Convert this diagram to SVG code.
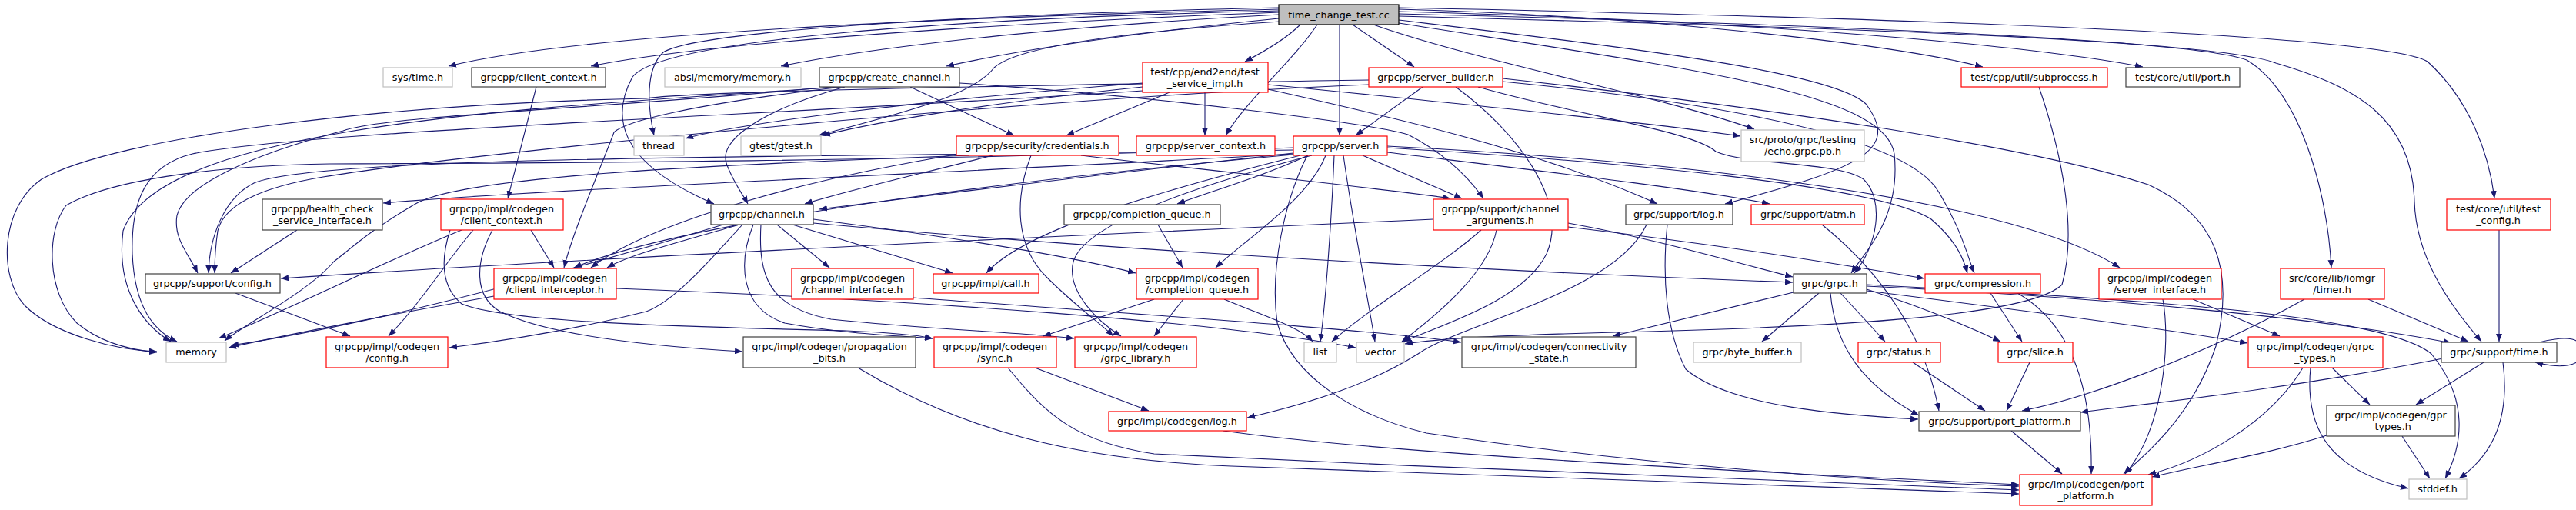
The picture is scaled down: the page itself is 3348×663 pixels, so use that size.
<svg xmlns="http://www.w3.org/2000/svg" width="3348" height="663" viewBox="0 0 3348 663">
<style>
.e path{fill:none;stroke:#191970;stroke-width:1.1;marker-end:url(#ah)}
rect{fill:#fff;stroke-width:1.2}
.b rect{stroke:#404040}
.r rect{stroke:#ff0000}
.g rect{stroke:#bfbfbf}
.root rect{fill:#bfbfbf;stroke:#000}
text{font-family:"DejaVu Sans","Liberation Sans",sans-serif;font-size:12.8px;text-anchor:middle;fill:#000}
</style>
<defs>
<marker id="ah" viewBox="0 0 10 8" refX="10" refY="4" markerWidth="10" markerHeight="8" orient="auto" markerUnits="userSpaceOnUse"><path d="M0,0 L10,4 L0,8 z" fill="#191970"/></marker>
</defs>
<rect x="0" y="0" width="3348" height="663" style="fill:#fff;stroke:none"/>
<g class="e" id="edges">
<path d="M1662,12 C1250,22 760,42 583,86"/>
<path d="M1662,16 C1300,30 920,55 768,86"/>
<path d="M1662,19 C1420,32 1160,56 1015,86"/>
<path d="M1662,24 C1500,40 1340,62 1230,86"/>
<path d="M1662,10 C1300,18 910,38 862,68 C838,90 842,140 850,176"/>
<path d="M1662,14 C1250,24 860,50 822,100 C795,150 800,210 928,265"/>
<path d="M1664,28 C1450,42 1320,62 1292,88 C1262,128 1150,152 1064,176"/>
<path d="M1690,32 C1672,50 1645,66 1618,80"/>
<path d="M1712,32 C1680,80 1620,130 1593,176"/>
<path d="M1741,32 L1741,176"/>
<path d="M1758,32 L1838,87"/>
<path d="M1785,32 C1920,80 2160,125 2280,168"/>
<path d="M1818,12 C2120,20 2450,55 2577,87"/>
<path d="M1818,15 C2220,25 2620,55 2785,87"/>
<path d="M1818,18 C2300,30 2850,50 2920,78 C2990,120 3025,250 3030,348"/>
<path d="M1818,10 C2500,24 3100,45 3155,80 C3210,130 3235,200 3242,258"/>
<path d="M1818,21 C2400,36 2880,52 2958,82 C3060,112 3135,152 3138,262 C3140,332 3180,392 3225,444"/>
<path d="M1818,26 C2100,60 2380,92 2425,135 C2470,195 2420,218 2242,265"/>
<path d="M1818,30 C2200,90 2450,120 2462,200 C2470,280 2430,320 2406,355"/>
<path d="M697,113 L660,258"/>
<path d="M1098,113 C1000,140 930,180 945,215 C955,240 965,252 972,265"/>
<path d="M1183,113 L1318,176"/>
<path d="M1247,108 C1500,125 1780,160 1830,175 C1870,195 1905,225 1928,258"/>
<path d="M1090,113 C700,140 210,160 160,300 C150,380 190,425 222,444"/>
<path d="M1080,113 C800,140 500,150 446,170 C330,200 240,240 230,280 C225,310 245,330 257,355"/>
<path d="M1095,113 C900,135 812,158 798,172 C780,220 745,300 733,348"/>
<path d="M1566,120 L1566,176"/>
<path d="M1520,120 L1386,176"/>
<path d="M1485,108 C1200,130 960,160 891,180"/>
<path d="M1485,113 C1300,132 1150,156 1069,176"/>
<path d="M1648,110 C1900,135 2150,160 2262,177"/>
<path d="M1648,116 C1800,150 2000,195 2154,265"/>
<path d="M1485,118 C1000,150 400,170 250,200 C190,215 170,260 172,330 C175,400 200,430 230,444"/>
<path d="M1849,113 L1762,176"/>
<path d="M1779,104 C1400,110 900,118 840,128 C500,135 150,178 54,233 C0,270 -2,360 32,397 C70,435 150,455 204,457"/>
<path d="M1779,110 C1300,130 600,200 420,230 C330,245 290,270 283,300 C280,320 279,340 279,355"/>
<path d="M1892,113 C1970,170 2040,260 2010,330 C1980,390 1880,420 1824,444"/>
<path d="M1921,113 C2050,150 2200,170 2230,197 C2270,215 2390,210 2422,233 C2450,260 2440,320 2410,355"/>
<path d="M1953,106 C2250,135 2480,180 2520,250 C2550,300 2556,330 2566,355"/>
<path d="M1953,102 C2300,140 2640,190 2792,240 C2880,280 2905,350 2880,450 C2850,540 2790,590 2760,616"/>
<path d="M1290,202 C1200,225 1100,248 1046,265"/>
<path d="M1405,202 C1600,225 1800,245 1885,258"/>
<path d="M1340,202 C1318,260 1320,320 1360,360 C1400,400 1430,420 1447,437"/>
<path d="M1260,202 C900,215 600,230 540,265 C480,300 460,320 434,340 C400,380 320,420 292,443"/>
<path d="M1260,198 C1000,240 830,300 768,348"/>
<path d="M1681,199 C1400,230 1200,255 1065,272"/>
<path d="M1681,200 C1300,222 720,245 498,264"/>
<path d="M1681,195 C1100,205 420,200 330,238 C290,258 272,310 271,355"/>
<path d="M1681,192 C1200,210 700,212 428,213 C300,215 150,230 86,267 C60,300 60,380 100,420 C130,445 170,455 204,458"/>
<path d="M1681,201 C1300,235 880,290 746,348"/>
<path d="M1771,202 L1900,258"/>
<path d="M1700,202 C1640,230 1570,250 1530,265"/>
<path d="M1723,202 C1700,260 1620,310 1580,348"/>
<path d="M1734,202 C1730,300 1722,400 1716,444"/>
<path d="M1746,202 C1760,300 1780,400 1787,444"/>
<path d="M1705,202 C1560,240 1410,290 1395,340 C1385,380 1430,420 1457,437"/>
<path d="M1690,202 C1500,250 1330,300 1282,355"/>
<path d="M1803,198 C2000,222 2200,245 2300,265"/>
<path d="M1803,192 C2100,210 2440,240 2510,285 C2545,315 2553,340 2557,355"/>
<path d="M1803,190 C2200,210 2620,260 2755,348"/>
<path d="M1699,202 C1670,260 1650,350 1660,420 C1680,490 1760,540 1854,563 C2100,600 2400,625 2624,632"/>
<path d="M961,292 C900,310 820,330 789,348"/>
<path d="M940,292 C780,340 500,420 300,449"/>
<path d="M965,292 C930,330 880,390 840,405 C740,430 640,445 584,452"/>
<path d="M1010,292 L1078,348"/>
<path d="M1030,292 L1238,355"/>
<path d="M1057,285 C1250,310 1400,335 1476,355"/>
<path d="M1057,290 C1500,330 2000,355 2330,367"/>
<path d="M979,292 C960,340 960,400 1020,420 C1100,435 1180,437 1212,440"/>
<path d="M989,292 C985,360 1000,400 1080,415 C1200,428 1330,432 1396,440"/>
<path d="M1505,292 L1537,348"/>
<path d="M1863,285 C1300,310 700,340 365,362"/>
<path d="M1925,299 C1880,340 1780,400 1731,444"/>
<path d="M1945,299 C1935,350 1880,400 1822,444"/>
<path d="M2038,290 C2150,310 2250,340 2330,360"/>
<path d="M2038,295 C2250,320 2400,345 2501,362"/>
<path d="M386,299 L300,355"/>
<path d="M690,299 L720,348"/>
<path d="M600,299 C500,340 380,400 284,440"/>
<path d="M615,299 C580,340 550,390 505,437"/>
<path d="M585,299 C575,330 570,370 600,395 C660,420 900,425 1100,430 C1150,432 1190,435 1212,440"/>
<path d="M640,299 C618,340 615,385 650,405 C720,440 880,452 965,457"/>
<path d="M642,385 C500,410 350,440 297,452"/>
<path d="M801,375 C1200,390 1600,420 1762,452"/>
<path d="M306,381 L455,437"/>
<path d="M1187,387 C1500,410 1800,430 1899,445"/>
<path d="M1500,389 L1356,437"/>
<path d="M1538,389 L1500,437"/>
<path d="M1591,389 C1640,410 1690,425 1706,444"/>
<path d="M1345,478 L1493,534"/>
<path d="M1310,478 C1360,540 1400,575 1500,590 C1900,610 2400,628 2624,637"/>
<path d="M1115,478 C1250,560 1400,598 1600,606 C2000,620 2400,636 2624,642"/>
<path d="M1590,560 C1800,590 2300,615 2624,630"/>
<path d="M2140,292 C2100,380 1900,420 1843,460 C1780,500 1700,525 1621,543"/>
<path d="M2167,292 C2160,360 2165,430 2191,480 C2250,530 2400,540 2493,545"/>
<path d="M2368,292 C2440,350 2500,430 2520,534"/>
<path d="M2331,380 L2096,437"/>
<path d="M2364,381 L2290,444"/>
<path d="M2392,381 L2450,444"/>
<path d="M2426,376 C2500,400 2560,425 2600,444"/>
<path d="M2426,378 C2600,400 2800,425 2921,446"/>
<path d="M2426,372 C2700,385 3000,410 3186,446"/>
<path d="M2379,381 C2385,450 2420,500 2494,540"/>
<path d="M2426,370 C2800,390 3100,410 3160,460 C3210,520 3200,580 3178,622"/>
<path d="M2587,381 L2628,444"/>
<path d="M2622,381 C2690,420 2720,500 2718,616"/>
<path d="M2850,389 L2963,437"/>
<path d="M2811,389 C2822,450 2810,560 2762,616"/>
<path d="M2995,389 C2850,470 2700,520 2628,534"/>
<path d="M3078,389 L3208,444"/>
<path d="M3248,299 L3248,444"/>
<path d="M2486,471 L2580,534"/>
<path d="M2638,471 L2608,534"/>
<path d="M3031,478 L3080,526"/>
<path d="M2993,478 C2950,550 2860,600 2792,617"/>
<path d="M3003,478 C2995,560 3030,612 3130,635"/>
<path d="M3300,445 C3340,435 3356,440 3356,458 C3356,476 3330,480 3295,471"/>
<path d="M3228,471 L3140,526"/>
<path d="M3253,471 C3262,540 3242,590 3196,622"/>
<path d="M3175,466 C2950,510 2760,528 2704,536"/>
<path d="M3024,566 C2950,590 2860,605 2797,620"/>
<path d="M3122,567 L3158,622"/>
<path d="M2614,560 L2680,616"/>
<path d="M2650,113 C2680,200 2700,300 2680,370 C2640,410 2400,425 2100,432 C1950,436 1870,440 1826,447"/>
</g>
<g id="n_root" class="root"><rect x="1662" y="6" width="156" height="26"/><text x="1740" y="23.5">time_change_test.cc</text></g>
<g id="n_systime" class="g"><rect x="498" y="88" width="90" height="25"/><text x="543" y="104.5">sys/time.h</text></g>
<g id="n_cc" class="b"><rect x="613" y="88" width="174" height="25"/><text x="700" y="104.5">grpcpp/client_context.h</text></g>
<g id="n_absl" class="g"><rect x="864" y="88" width="177" height="25"/><text x="952" y="104.5">absl/memory/memory.h</text></g>
<g id="n_cch" class="b"><rect x="1065" y="88" width="182" height="25"/><text x="1156" y="104.5">grpcpp/create_channel.h</text></g>
<g id="n_tsi" class="r"><rect x="1485" y="81" width="163" height="39"/><text x="1566" y="97.5">test/cpp/end2end/test</text><text x="1566" y="112.5">_service_impl.h</text></g>
<g id="n_sb" class="r"><rect x="1779" y="88" width="174" height="25"/><text x="1866" y="104.5">grpcpp/server_builder.h</text></g>
<g id="n_subproc" class="r"><rect x="2549" y="88" width="190" height="25"/><text x="2644" y="104.5">test/cpp/util/subprocess.h</text></g>
<g id="n_port" class="b"><rect x="2763" y="88" width="148" height="25"/><text x="2837" y="104.5">test/core/util/port.h</text></g>
<g id="n_thread" class="g"><rect x="824" y="177" width="65" height="25"/><text x="856" y="193.5">thread</text></g>
<g id="n_gtest" class="g"><rect x="963" y="177" width="104" height="25"/><text x="1015" y="193.5">gtest/gtest.h</text></g>
<g id="n_cred" class="r"><rect x="1243" y="177" width="211" height="25"/><text x="1348" y="193.5">grpcpp/security/credentials.h</text></g>
<g id="n_sctx" class="r"><rect x="1477" y="177" width="180" height="25"/><text x="1567" y="193.5">grpcpp/server_context.h</text></g>
<g id="n_server" class="r"><rect x="1681" y="177" width="122" height="25"/><text x="1742" y="193.5">grpcpp/server.h</text></g>
<g id="n_echo" class="g"><rect x="2263" y="169" width="160" height="41"/><text x="2343" y="186">src/proto/grpc/testing</text><text x="2343" y="201">/echo.grpc.pb.h</text></g>
<g id="n_health" class="b"><rect x="341" y="259" width="156" height="40"/><text x="419" y="275.5">grpcpp/health_check</text><text x="419" y="290.5">_service_interface.h</text></g>
<g id="n_icc" class="r"><rect x="573" y="259" width="159" height="40"/><text x="652" y="275.5">grpcpp/impl/codegen</text><text x="652" y="290.5">/client_context.h</text></g>
<g id="n_channel" class="b"><rect x="924" y="266" width="133" height="26"/><text x="990" y="283">grpcpp/channel.h</text></g>
<g id="n_cq" class="b"><rect x="1383" y="266" width="203" height="26"/><text x="1484" y="283">grpcpp/completion_queue.h</text></g>
<g id="n_chargs" class="r"><rect x="1863" y="259" width="175" height="40"/><text x="1950" y="275.5">grpcpp/support/channel</text><text x="1950" y="290.5">_arguments.h</text></g>
<g id="n_log" class="b"><rect x="2113" y="266" width="139" height="26"/><text x="2182" y="283">grpc/support/log.h</text></g>
<g id="n_atm" class="r"><rect x="2276" y="266" width="147" height="26"/><text x="2350" y="283">grpc/support/atm.h</text></g>
<g id="n_testcfg" class="r"><rect x="3180" y="259" width="135" height="40"/><text x="3247" y="275.5">test/core/util/test</text><text x="3247" y="290.5">_config.h</text></g>
<g id="n_config" class="b"><rect x="189" y="356" width="175" height="25"/><text x="276" y="372.5">grpcpp/support/config.h</text></g>
<g id="n_ci" class="r"><rect x="642" y="349" width="159" height="40"/><text x="721" y="365.5">grpcpp/impl/codegen</text><text x="721" y="380.5">/client_interceptor.h</text></g>
<g id="n_ci2" class="r"><rect x="1029" y="349" width="158" height="40"/><text x="1108" y="365.5">grpcpp/impl/codegen</text><text x="1108" y="380.5">/channel_interface.h</text></g>
<g id="n_call" class="r"><rect x="1213" y="356" width="137" height="25"/><text x="1281" y="372.5">grpcpp/impl/call.h</text></g>
<g id="n_icq" class="r"><rect x="1477" y="349" width="158" height="40"/><text x="1556" y="365.5">grpcpp/impl/codegen</text><text x="1556" y="380.5">/completion_queue.h</text></g>
<g id="n_grpc" class="b"><rect x="2331" y="356" width="95" height="25"/><text x="2378" y="372.5">grpc/grpc.h</text></g>
<g id="n_comp" class="r"><rect x="2502" y="356" width="150" height="25"/><text x="2577" y="372.5">grpc/compression.h</text></g>
<g id="n_sif" class="r"><rect x="2728" y="349" width="159" height="40"/><text x="2807" y="365.5">grpcpp/impl/codegen</text><text x="2807" y="380.5">/server_interface.h</text></g>
<g id="n_timer" class="r"><rect x="2964" y="349" width="135" height="40"/><text x="3031" y="365.5">src/core/lib/iomgr</text><text x="3031" y="380.5">/timer.h</text></g>
<g id="n_memory" class="g"><rect x="216" y="445" width="78" height="26"/><text x="255" y="462">memory</text></g>
<g id="n_iconfig" class="r"><rect x="424" y="438" width="158" height="40"/><text x="503" y="454.5">grpcpp/impl/codegen</text><text x="503" y="469.5">/config.h</text></g>
<g id="n_prop" class="b"><rect x="966" y="438" width="224" height="40"/><text x="1078" y="454.5">grpc/impl/codegen/propagation</text><text x="1078" y="469.5">_bits.h</text></g>
<g id="n_sync" class="r"><rect x="1214" y="438" width="159" height="40"/><text x="1293" y="454.5">grpcpp/impl/codegen</text><text x="1293" y="469.5">/sync.h</text></g>
<g id="n_glib" class="r"><rect x="1397" y="438" width="158" height="40"/><text x="1476" y="454.5">grpcpp/impl/codegen</text><text x="1476" y="469.5">/grpc_library.h</text></g>
<g id="n_list" class="g"><rect x="1695" y="445" width="42" height="26"/><text x="1716" y="462">list</text></g>
<g id="n_vector" class="g"><rect x="1763" y="445" width="62" height="26"/><text x="1794" y="462">vector</text></g>
<g id="n_conn" class="b"><rect x="1900" y="438" width="226" height="40"/><text x="2013" y="454.5">grpc/impl/codegen/connectivity</text><text x="2013" y="469.5">_state.h</text></g>
<g id="n_bb" class="g"><rect x="2201" y="445" width="140" height="26"/><text x="2271" y="462">grpc/byte_buffer.h</text></g>
<g id="n_status" class="r"><rect x="2415" y="445" width="107" height="26"/><text x="2468" y="462">grpc/status.h</text></g>
<g id="n_slice" class="r"><rect x="2597" y="445" width="97" height="26"/><text x="2645" y="462">grpc/slice.h</text></g>
<g id="n_gtypes" class="r"><rect x="2922" y="438" width="175" height="40"/><text x="3009" y="454.5">grpc/impl/codegen/grpc</text><text x="3009" y="469.5">_types.h</text></g>
<g id="n_time" class="b"><rect x="3173" y="445" width="150" height="26"/><text x="3248" y="462">grpc/support/time.h</text></g>
<g id="n_ilog" class="r"><rect x="1441" y="535" width="179" height="25"/><text x="1530" y="551.5">grpc/impl/codegen/log.h</text></g>
<g id="n_pp" class="b"><rect x="2494" y="535" width="210" height="25"/><text x="2599" y="551.5">grpc/support/port_platform.h</text></g>
<g id="n_gpr" class="b"><rect x="3024" y="527" width="167" height="40"/><text x="3107" y="543.5">grpc/impl/codegen/gpr</text><text x="3107" y="558.5">_types.h</text></g>
<g id="n_ipp" class="r"><rect x="2625" y="617" width="172" height="40"/><text x="2711" y="633.5">grpc/impl/codegen/port</text><text x="2711" y="648.5">_platform.h</text></g>
<g id="n_stddef" class="g"><rect x="3131" y="623" width="75" height="26"/><text x="3168" y="640">stddef.h</text></g>
</svg>
